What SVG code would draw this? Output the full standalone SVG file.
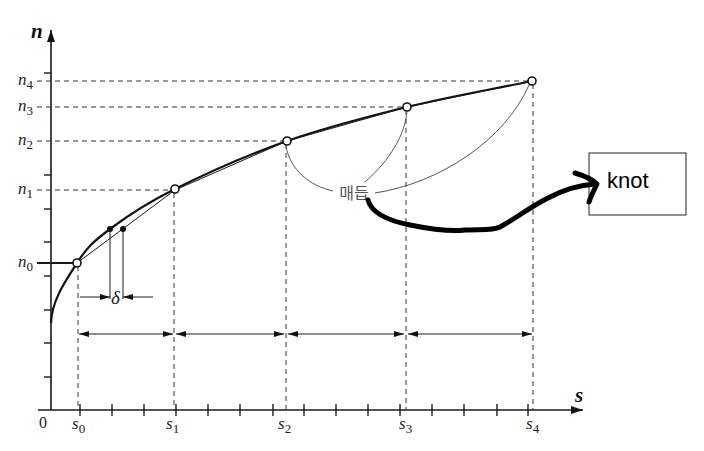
<svg xmlns="http://www.w3.org/2000/svg" width="704" height="451" viewBox="0 0 704 451">
<defs>
<style>
.ax{stroke:#1a1a1a;stroke-width:1.6;fill:none}
.tk{stroke:#1a1a1a;stroke-width:1.4}
.dash{stroke:#333;stroke-width:1;stroke-dasharray:5 4;fill:none}
.thin{stroke:#1a1a1a;stroke-width:1;fill:none}
.lead{stroke:#555;stroke-width:1;fill:none}
.curve{stroke:#111;stroke-width:2.2;fill:none}
.node{fill:#fff;stroke:#111;stroke-width:1.6}
.lbl{font-family:"Liberation Serif","DejaVu Serif",serif;font-style:italic;fill:#222}
.sub{font-family:"Liberation Serif","DejaVu Serif",serif;font-style:normal;fill:#222}
.axl{font-family:"Liberation Serif","DejaVu Serif",serif;font-style:italic;font-weight:bold;fill:#111}
</style>
<marker id="ah" viewBox="0 0 10 6" refX="10" refY="3" markerWidth="10" markerHeight="6" markerUnits="userSpaceOnUse" orient="auto-start-reverse">
<path d="M0,0 L10,3 L0,6 Z" fill="#111"/>
</marker>
<marker id="axh" viewBox="0 0 12 8" refX="12" refY="4" markerWidth="12" markerHeight="8" markerUnits="userSpaceOnUse" orient="auto">
<path d="M0,0 L12,4 L0,8 Z" fill="#111"/>
</marker>
</defs>
<rect width="704" height="451" fill="#fff"/>

<g id="axes">
<line class="ax" x1="51" y1="410" x2="51" y2="30" marker-end="url(#axh)"/>
<line class="ax" x1="38" y1="410" x2="583" y2="410" marker-end="url(#axh)"/>
<g class="tk">
<line x1="44" y1="377" x2="51" y2="377"/>
<line x1="44" y1="343" x2="51" y2="343"/>
<line x1="44" y1="310" x2="51" y2="310"/>
<line x1="44" y1="276" x2="51" y2="276"/>
<line x1="44" y1="242" x2="51" y2="242"/>
<line x1="44" y1="209" x2="51" y2="209"/>
<line x1="44" y1="175" x2="51" y2="175"/>
<line x1="44" y1="73" x2="51" y2="73"/>
<line x1="80" y1="404" x2="80" y2="416"/>
<line x1="112" y1="404" x2="112" y2="416"/>
<line x1="144" y1="404" x2="144" y2="416"/>
<line x1="176" y1="404" x2="176" y2="416"/>
<line x1="208" y1="404" x2="208" y2="416"/>
<line x1="240" y1="404" x2="240" y2="416"/>
<line x1="273" y1="404" x2="273" y2="416"/>
<line x1="304" y1="404" x2="304" y2="416"/>
<line x1="336" y1="404" x2="336" y2="416"/>
<line x1="368" y1="404" x2="368" y2="416"/>
<line x1="400" y1="404" x2="400" y2="416"/>
<line x1="432" y1="404" x2="432" y2="416"/>
<line x1="464" y1="404" x2="464" y2="416"/>
<line x1="497" y1="404" x2="497" y2="416"/>
<line x1="528" y1="404" x2="528" y2="416"/>
</g>
<text class="axl" x="31" y="38" font-size="21">n</text>
<text class="axl" x="575" y="402" font-size="21">s</text>
<text class="sub" x="39" y="428" font-size="16">0</text>
</g>

<g id="guides">
<line class="dash" x1="37" y1="81" x2="532" y2="81"/>
<line class="dash" x1="37" y1="107" x2="407" y2="107"/>
<line class="dash" x1="37" y1="141" x2="287" y2="141"/>
<line class="dash" x1="37" y1="190" x2="175" y2="190"/>
<line class="thin" x1="37" y1="263" x2="77" y2="263" style="stroke-width:1.8"/>
<line class="dash" x1="78" y1="266" x2="78" y2="410"/>
<line class="dash" x1="174" y1="193" x2="174" y2="410"/>
<line class="dash" x1="286" y1="144" x2="286" y2="410"/>
<line class="dash" x1="406" y1="110" x2="406" y2="410"/>
<line class="dash" x1="533" y1="84" x2="533" y2="410"/>
</g>

<g id="labels">
<text class="lbl" x="18" y="85" font-size="17">n<tspan class="sub" font-size="13" dy="4">4</tspan></text>
<text class="lbl" x="18" y="111" font-size="17">n<tspan class="sub" font-size="13" dy="4">3</tspan></text>
<text class="lbl" x="18" y="145" font-size="17">n<tspan class="sub" font-size="13" dy="4">2</tspan></text>
<text class="lbl" x="18" y="194" font-size="17">n<tspan class="sub" font-size="13" dy="4">1</tspan></text>
<text class="lbl" x="18" y="267" font-size="17">n<tspan class="sub" font-size="13" dy="4">0</tspan></text>
<text class="lbl" x="72" y="429" font-size="17">s<tspan class="sub" font-size="13" dy="4">0</tspan></text>
<text class="lbl" x="166" y="429" font-size="17">s<tspan class="sub" font-size="13" dy="4">1</tspan></text>
<text class="lbl" x="278" y="429" font-size="17">s<tspan class="sub" font-size="13" dy="4">2</tspan></text>
<text class="lbl" x="399" y="429" font-size="17">s<tspan class="sub" font-size="13" dy="4">3</tspan></text>
<text class="lbl" x="526" y="429" font-size="17">s<tspan class="sub" font-size="13" dy="4">4</tspan></text>
<text class="lbl" x="111" y="304" font-size="19">δ</text>
</g>

<g id="curve">
<path class="curve" d="M51,323 C51.5,300 67.2,278.5 77,263 C86.8,247.5 93.7,241.3 110,229 C126.3,216.7 145.5,203.7 175,189 C204.5,174.3 248.3,154.7 287,141 C325.7,127.3 366.2,117 407,107 C447.8,97 490.3,89.7 532,81"/>
<polyline class="thin" points="77,263 175,190 287,141 407,107 532,81"/>
</g>

<g id="delta">
<line class="thin" x1="110" y1="229" x2="110" y2="299"/>
<line class="thin" x1="123" y1="229" x2="123" y2="299"/>
<line class="thin" x1="80" y1="297" x2="110" y2="297" marker-end="url(#ah)"/>
<line class="thin" x1="153" y1="297" x2="123" y2="297" marker-end="url(#ah)"/>
<circle cx="110" cy="229" r="3" fill="#111"/>
<circle cx="123" cy="229" r="3" fill="#111"/>
</g>

<g id="spans">
<line class="thin" x1="79" y1="334" x2="173" y2="334" marker-start="url(#ah)" marker-end="url(#ah)"/>
<line class="thin" x1="176" y1="334" x2="284" y2="334" marker-start="url(#ah)" marker-end="url(#ah)"/>
<line class="thin" x1="288" y1="334" x2="404" y2="334" marker-start="url(#ah)" marker-end="url(#ah)"/>
<line class="thin" x1="408" y1="334" x2="532" y2="334" marker-start="url(#ah)" marker-end="url(#ah)"/>
</g>

<g id="nodes">
<circle class="node" cx="77" cy="263" r="4"/>
<circle class="node" cx="175" cy="189" r="4"/>
<circle class="node" cx="287" cy="141" r="4"/>
<circle class="node" cx="407" cy="107" r="4"/>
<circle class="node" cx="532" cy="81" r="4"/>
</g>

<g id="knot-label">
<path class="lead" d="M286,146 C290,170 310,186 333,191"/>
<path class="lead" d="M365,182 C390,160 405,135 407,111"/>
<path class="lead" d="M375,193 C440,183 505,140 529,85"/>
<text x="354" y="199" font-size="16" text-anchor="middle" fill="#555" font-family="'Noto Sans CJK KR','Noto Sans',sans-serif">매듭</text>
</g>

<g id="knot">
<rect x="589" y="153" width="97" height="62" fill="#fff" stroke="#222" stroke-width="1"/>
<text x="607" y="188" font-size="22" font-family="'Liberation Sans',Arial,sans-serif" fill="#000">knot</text>
</g>

<g id="connectors">
<path d="M368,200 C372,216 395,222 410,225 C430,229 450,232 465,230 C480,229 492,231 500,227 C515,219 530,207 548,198 C565,189 580,185 595,184" fill="none" stroke="#000" stroke-width="5" stroke-linecap="round" stroke-linejoin="round"/>
<path d="M575,173 C585,176 593,180 597,184 C594,190 591,196 589,202" fill="none" stroke="#000" stroke-width="5" stroke-linecap="round" stroke-linejoin="round"/>
</g>
</svg>
